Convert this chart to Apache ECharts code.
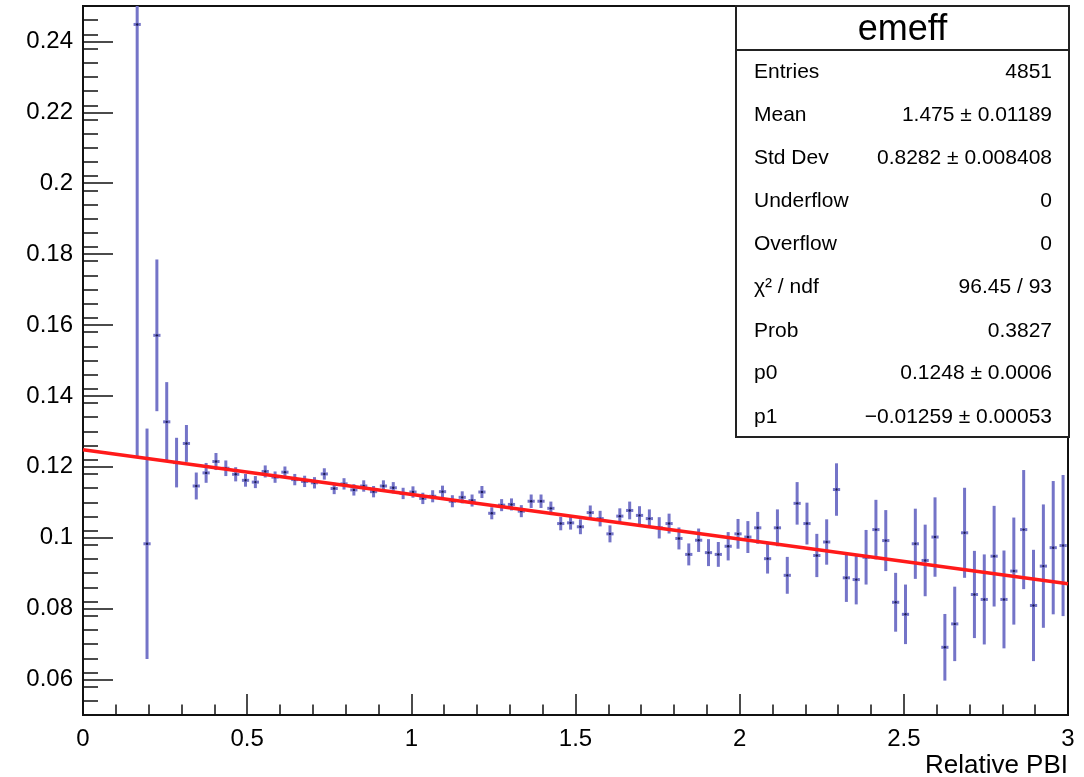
<!DOCTYPE html>
<html>
<head>
<meta charset="utf-8">
<script src="https://cdn.jsdelivr.net/npm/echarts@6/dist/echarts.min.js"></script>
<style>
html,body{margin:0;padding:0;background:#fff;}
#chart{width:1084px;height:777px;}
</style>
</head>
<body>
<div id="chart"></div>
<script>
// ---- data ----
const binCenters = [
 0.165,0.195,0.225,0.255,0.285,0.315,0.345,0.375,0.405,0.435,
 0.465,0.495,0.525,0.555,0.585,0.615,0.645,0.675,0.705,0.735,
 0.765,0.795,0.825,0.855,0.885,0.915,0.945,0.975,1.005,1.035,
 1.065,1.095,1.125,1.155,1.185,1.215,1.245,1.275,1.305,1.335,
 1.365,1.395,1.425,1.455,1.485,1.515,1.545,1.575,1.605,1.635,
 1.665,1.695,1.725,1.755,1.785,1.815,1.845,1.875,1.905,1.935,
 1.965,1.995,2.025,2.055,2.085,2.115,2.145,2.175,2.205,2.235,
 2.265,2.295,2.325,2.355,2.385,2.415,2.445,2.475,2.505,2.535,
 2.565,2.595,2.625,2.655,2.685,2.715,2.745,2.775,2.805,2.835,
 2.865,2.895,2.925,2.955,2.985
];
const efficiency = [
 0.2448,0.0983,0.1571,0.1327,0.1212,0.1266,0.1146,0.1183,0.1215,0.1196,
 0.1179,0.1162,0.1157,0.1187,0.1171,0.1185,0.1164,0.1159,0.1155,0.1180,
 0.1139,0.1152,0.1135,0.1146,0.1130,0.1146,0.1141,0.1125,0.1129,0.1111,
 0.1117,0.1130,0.1103,0.1114,0.1105,0.1129,0.1069,0.1092,0.1094,0.1075,
 0.1103,0.1103,0.1083,0.1040,0.1042,0.1031,0.1071,0.1054,0.1011,0.1061,
 0.1077,0.1063,0.1054,0.1028,0.1040,0.0998,0.0953,0.0993,0.0958,0.0953,
 0.0976,0.1011,0.1002,0.1028,0.0941,0.1028,0.0894,0.1097,0.1040,0.0950,
 0.0988,0.1136,0.0887,0.0882,0.0945,0.1023,0.0992,0.0818,0.0784,0.0983,
 0.0936,0.1002,0.0691,0.0757,0.1014,0.0840,0.0826,0.0948,0.0826,0.0906,
 0.1023,0.0809,0.0920,0.0972,0.0978
];
const errors = [
 0.1220,0.0325,0.0214,0.0112,0.0070,0.0052,0.0038,0.0028,0.0024,0.0022,
 0.0020,0.0018,0.0017,0.0017,0.0016,0.0016,0.0016,0.0016,0.0016,0.0016,
 0.0016,0.0016,0.0016,0.0016,0.0016,0.0016,0.0016,0.0016,0.0016,0.0016,
 0.0017,0.0017,0.0017,0.0017,0.0017,0.0017,0.0017,0.0017,0.0017,0.0017,
 0.0019,0.0019,0.0019,0.0019,0.0019,0.0021,0.0020,0.0022,0.0024,0.0022,
 0.0025,0.0026,0.0026,0.0030,0.0028,0.0031,0.0031,0.0033,0.0038,0.0035,
 0.0040,0.0042,0.0045,0.0045,0.0042,0.0052,0.0052,0.0060,0.0059,0.0061,
 0.0064,0.0074,0.0068,0.0070,0.0077,0.0084,0.0086,0.0083,0.0084,0.0099,
 0.0101,0.0112,0.0094,0.0105,0.0127,0.0123,0.0127,0.0142,0.0138,0.0151,
 0.0168,0.0157,0.0174,0.0188,0.0199
];
const fitX = [0, 3];
const fitY = [0.1248, 0.0870];
const yTickLabels = [0.06,0.08,0.1,0.12,0.14,0.16,0.18,0.2,0.22,0.24];
const xTickLabels = [0,0.5,1,1.5,2,2.5,3];
const statsTitle = 'emeff';
const statsRows = [
 ['Entries','4851'],
 ['Mean','1.475 ± 0.01189'],
 ['Std Dev','0.8282 ± 0.008408'],
 ['Underflow','0'],
 ['Overflow','0'],
 ['χ² / ndf','96.45 / 93'],
 ['Prob','0.3827'],
 ['p0','0.1248 ± 0.0006'],
 ['p1','−0.01259 ± 0.00053']
];
const xTitle = 'Relative PBI';

// ---- chart ----
const FONT = '"Liberation Sans", Arial, Helvetica, sans-serif';
const chart = echarts.init(document.getElementById('chart'), null, {renderer:'canvas'});

const yMinorTicks = [];
for (let k = 0; k <= 50; k++) {
  const v = +(0.05 + k * 0.004).toFixed(4);
  if (v > 0.05 && v < 0.25) yMinorTicks.push(v);
}

const errData = binCenters.map((x, i) => [x, efficiency[i], errors[i]]);
const HALF_W = 0.011;

const statsGraphics = [];
const BX = 736, BY = 6, BW = 333, BH = 431;
statsGraphics.push({type:'rect', shape:{x:BX, y:BY, width:BW, height:BH},
  style:{fill:'#fff', stroke:'#222', lineWidth:2}, z:100});
statsGraphics.push({type:'line', shape:{x1:BX, y1:50, x2:BX+BW, y2:50},
  style:{stroke:'#222', lineWidth:2}, z:101});
statsGraphics.push({type:'text', x:BX+BW/2, y:30, z:101,
  style:{text:statsTitle, font:'36px '+FONT, fill:'#000', align:'center', verticalAlign:'middle'}});
const rowY = [72,115,158,201,244,287,331,373,417];
statsRows.forEach((r, i) => {
  statsGraphics.push({type:'text', x:754, y:rowY[i], z:101,
    style:{text:r[0], font:'21px '+FONT, fill:'#000', align:'left', verticalAlign:'middle'}});
  statsGraphics.push({type:'text', x:1052, y:rowY[i], z:101,
    style:{text:r[1], font:'21px '+FONT, fill:'#000', align:'right', verticalAlign:'middle'}});
});
statsGraphics.push({type:'text', x:1068, y:766, z:101,
  style:{text:xTitle, font:'26px '+FONT, fill:'#000', align:'right', verticalAlign:'middle'}});

const option = {
  backgroundColor:'#fff',
  animation:false,
  grid:{left:83, right:16, top:6, bottom:62, show:true, borderColor:'#111', borderWidth:2, backgroundColor:'transparent'},
  xAxis:{
    type:'value', min:0, max:3, interval:0.5,
    axisLine:{show:true, onZero:false, lineStyle:{color:'#111', width:2}},
    axisTick:{show:true, inside:true, length:21, lineStyle:{color:'#111', width:1.5}},
    minorTick:{show:true, splitNumber:5, length:10.5, lineStyle:{color:'#111', width:1.5}},
    splitLine:{show:false}, minorSplitLine:{show:false},
    axisLabel:{fontSize:24, fontFamily:FONT, color:'#000', margin:12,
      customValues:xTickLabels, formatter:v=>String(v)}
  },
  yAxis:[{
    type:'value', min:0.05, max:0.25,
    axisLine:{show:true, onZero:false, lineStyle:{color:'#111', width:2}},
    axisTick:{show:true, inside:true, length:30, customValues:yTickLabels, lineStyle:{color:'#111', width:1.5}},
    splitLine:{show:false},
    axisLabel:{fontSize:24, fontFamily:FONT, color:'#000', margin:10,
      customValues:yTickLabels, formatter:v=>String(+v.toFixed(3))}
  },{
    type:'value', min:0.05, max:0.25, position:'left',
    axisLine:{show:false},
    axisTick:{show:true, inside:true, length:15, customValues:yMinorTicks, lineStyle:{color:'#111', width:1.5}},
    splitLine:{show:false},
    axisLabel:{show:false}
  }],
  graphic:statsGraphics,
  series:[{
    type:'custom',
    clip:true,
    data:errData,
    encode:{x:0, y:1},
    z:2,
    renderItem:function(params, api){
      const x = api.value(0), y = api.value(1), e = api.value(2);
      const c = api.coord([x, y]);
      const t = api.coord([x, y + e]);
      const b = api.coord([x, y - e]);
      const l = api.coord([x - HALF_W, y]);
      const r = api.coord([x + HALF_W, y]);
      const col = '#7474c8';
      return {type:'group', children:[
        {type:'line', shape:{x1:c[0], y1:t[1], x2:c[0], y2:b[1]}, style:{stroke:col, lineWidth:3}},
        {type:'line', shape:{x1:l[0], y1:c[1], x2:r[0], y2:c[1]}, style:{stroke:col, lineWidth:3}},
        {type:'circle', shape:{cx:c[0], cy:c[1], r:1.2}, style:{fill:'#1a1a55'}}
      ]};
    }
  },{
    type:'line',
    data:fitX.map((x, i) => [x, fitY[i]]),
    symbol:'none',
    z:3,
    lineStyle:{color:'#ff1a1a', width:3.5}
  }]
};
chart.setOption(option);
</script>
</body>
</html>
